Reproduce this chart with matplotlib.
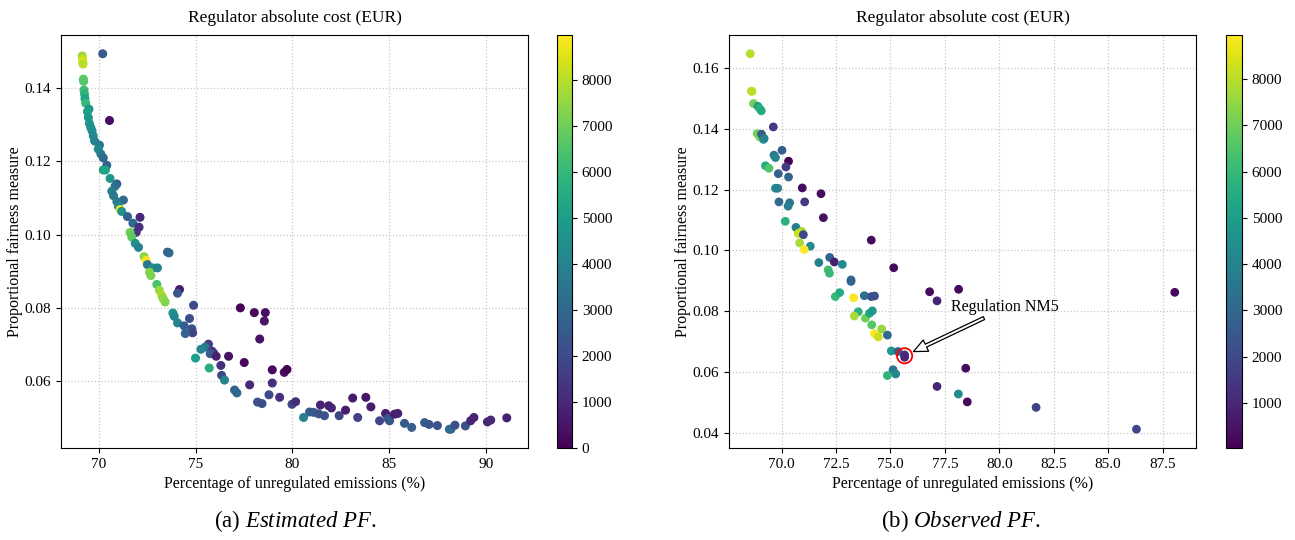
import matplotlib
matplotlib.use('Agg')
import matplotlib.pyplot as plt

plt.rcParams['font.family'] = ['Liberation Serif', 'DejaVu Serif']
plt.rcParams['mathtext.fontset'] = 'custom'
plt.rcParams['mathtext.rm'] = 'Liberation Serif'
plt.rcParams['mathtext.it'] = 'Liberation Serif:italic'

# (a) estimated Pareto front
est_x = [69.13, 69.15, 69.16, 69.17, 70.19, 69.19, 69.20, 69.22, 69.25, 69.27,
         69.31, 69.48, 69.40, 69.45, 70.54, 69.50, 69.57, 69.64, 69.70, 69.77,
         70.02, 69.96, 70.09, 70.22, 70.40, 70.22, 70.33, 70.57, 70.92, 70.83,
         70.66, 70.75, 71.26, 70.92, 71.00, 71.09, 71.17, 71.47, 72.12, 71.75,
         72.07, 71.92, 71.60, 71.69, 71.87, 72.04, 73.54, 73.62, 72.33, 72.44,
         72.50, 72.78, 73.02, 72.61, 72.68, 72.99, 73.12, 73.24, 73.32, 73.42,
         74.16, 74.06, 74.89, 77.31, 78.03, 78.60, 78.55, 78.31, 73.82, 73.89,
         74.06, 74.68, 74.40, 74.80, 74.84, 74.46, 75.66, 75.49, 75.27, 75.84,
         75.92, 75.75, 76.06, 76.70, 77.51, 74.99, 75.70, 76.30, 76.34, 76.49,
         78.96, 79.58, 79.72, 78.96, 77.79, 77.01, 77.13, 78.79, 79.34, 78.20,
         78.43, 79.98, 80.17, 80.89, 80.58, 81.10, 81.36, 81.45, 81.66, 81.88,
         82.02, 82.42, 82.75, 83.12, 83.38, 83.80, 84.06, 84.51, 84.82, 84.94,
         85.03, 85.28, 85.45, 85.80, 86.17, 86.84, 87.07, 87.50, 88.12, 88.20,
         88.41, 88.95, 89.22, 89.39, 90.09, 90.26, 91.09]
est_y = [0.1487, 0.1478, 0.1470, 0.1465, 0.1493, 0.1424, 0.1418, 0.1394, 0.1383, 0.1371,
         0.1358, 0.1342, 0.1335, 0.1319, 0.1311, 0.1303, 0.1292, 0.1283, 0.1269, 0.1255,
         0.1244, 0.1233, 0.1220, 0.1209, 0.1189, 0.1176, 0.1176, 0.1153, 0.1138, 0.1132,
         0.1118, 0.1106, 0.1094, 0.1090, 0.1077, 0.1068, 0.1063, 0.1049, 0.1047, 0.1031,
         0.1020, 0.1006, 0.1006, 0.0993, 0.0976, 0.0965, 0.0952, 0.0950, 0.0940, 0.0929,
         0.0918, 0.0909, 0.0909, 0.0897, 0.0888, 0.0864, 0.0848, 0.0834, 0.0825, 0.0816,
         0.0850, 0.0840, 0.0807, 0.0800, 0.0787, 0.0787, 0.0764, 0.0715, 0.0786, 0.0777,
         0.0759, 0.0771, 0.0751, 0.0743, 0.0732, 0.0730, 0.0701, 0.0693, 0.0687, 0.0682,
         0.0677, 0.0675, 0.0668, 0.0668, 0.0651, 0.0663, 0.0636, 0.0643, 0.0616, 0.0603,
         0.0631, 0.0624, 0.0632, 0.0595, 0.0590, 0.0576, 0.0568, 0.0563, 0.0556, 0.0543,
         0.0539, 0.0537, 0.0544, 0.0516, 0.0501, 0.0515, 0.0511, 0.0535, 0.0506, 0.0533,
         0.0527, 0.0506, 0.0521, 0.0554, 0.0501, 0.0556, 0.0530, 0.0492, 0.0512, 0.0498,
         0.0492, 0.0510, 0.0512, 0.0485, 0.0474, 0.0487, 0.0482, 0.0479, 0.0469, 0.0469,
         0.0480, 0.0478, 0.0492, 0.0501, 0.0489, 0.0494, 0.0500]
est_cost = [7600, 8200, 8600, 8000, 2600, 6800, 6600, 6200, 5800, 5300,
            6000, 4600, 5000, 4800, 300, 4700, 4500, 4400, 4200, 4000,
            3600, 4200, 3800, 3000, 2800, 5000, 5200, 4800, 2700, 3200,
            3800, 3600, 3000, 3800, 4200, 8800, 4500, 2800, 1000, 3100,
            1200, 1400, 7000, 6800, 4600, 3900, 2900, 3100, 7500, 8980,
            3500, 4300, 3900, 7400, 7200, 6400, 7600, 7800, 7500, 7300,
            600, 2400, 2000, 100, 200, 400, 500, 400, 4500, 4200,
            4000, 2200, 2600, 2300, 1800, 2800, 1600, 3600, 4100, 1400,
            1200, 2600, 800, 400, 200, 5000, 5600, 1300, 2000, 4000,
            200, 300, 0, 1200, 1000, 2800, 3000, 2000, 1200, 2200,
            2100, 1800, 1100, 2600, 3900, 2500, 2300, 900, 2200, 800,
            900, 1800, 700, 600, 1700, 500, 600, 1900, 800, 2300,
            2400, 700, 800, 2500, 2600, 2500, 2300, 2300, 3000, 3100,
            2200, 2300, 1000, 900, 900, 1000, 800]

# (b) observed Pareto front
obs_x = [68.56, 68.61, 68.64, 68.71, 68.91, 69.00, 69.07, 69.62, 68.88, 69.00,
         69.08, 69.17, 69.20, 70.02, 69.65, 69.72, 70.32, 70.20, 69.26, 69.42,
         69.85, 70.32, 69.72, 69.82, 70.95, 71.81, 69.88, 70.37, 70.30, 71.06,
         71.92, 70.17, 70.66, 70.92, 70.77, 71.00, 70.83, 71.32, 71.04, 74.12,
         71.71, 72.21, 72.42, 72.79, 72.14, 72.20, 73.19, 73.19, 75.15, 76.80,
         77.14, 73.31, 72.47, 72.67, 73.80, 74.12, 74.27, 73.52, 73.34, 73.85,
         74.04, 74.17, 74.14, 74.60, 74.27, 74.44, 74.86, 75.04, 75.35, 75.65,
         75.65, 75.12, 75.24, 74.86, 77.14, 78.13, 88.06, 78.46, 78.12, 78.53,
         81.69, 86.30]
obs_y = [0.1648, 0.1525, 0.1524, 0.1484, 0.1475, 0.1467, 0.1460, 0.1407, 0.1385, 0.1374,
         0.1383, 0.1366, 0.1369, 0.1330, 0.1314, 0.1306, 0.1294, 0.1275, 0.1279, 0.1271,
         0.1253, 0.1242, 0.1205, 0.1205, 0.1206, 0.1187, 0.1160, 0.1157, 0.1146, 0.1160,
         0.1108, 0.1096, 0.1076, 0.1063, 0.1056, 0.1052, 0.1025, 0.1014, 0.1003, 0.1034,
         0.0960, 0.0977, 0.0962, 0.0954, 0.0936, 0.0925, 0.0903, 0.0898, 0.0943, 0.0864,
         0.0834, 0.0844, 0.0848, 0.0861, 0.0851, 0.0848, 0.0850, 0.0798, 0.0784, 0.0777,
         0.0793, 0.0801, 0.0755, 0.0741, 0.0726, 0.0715, 0.0721, 0.0669, 0.0667, 0.0656,
         0.0648, 0.0607, 0.0593, 0.0588, 0.0552, 0.0872, 0.0862, 0.0612, 0.0527, 0.0501,
         0.0483, 0.0411]
obs_cost = [8000, 8200, 8000, 7000, 5000, 5800, 5500, 1500, 7000, 7200,
            2500, 4200, 4000, 2600, 3500, 4000, 30, 1500, 5500, 6500,
            2700, 2800, 4200, 4000, 300, 300, 3000, 3500, 3700, 1500,
            400, 5700, 3800, 7800, 8200, 2000, 7800, 4300, 8950, 300,
            3900, 2800, 800, 4300, 6300, 6000, 3300, 2800, 200, 300,
            900, 8900, 6000, 5500, 3300, 2200, 2200, 5700, 7800, 7000,
            5300, 4800, 6600, 7500, 8900, 8200, 3000, 4700, 2600, 1200,
            1000, 3500, 4200, 5800, 1000, 200, 200, 300, 4300, 300,
            1800, 1900]

nm5_x, nm5_y = 75.65, 0.0653
label_x, label_y = 80.25, 0.0814
arrow_tail = (79.70, 0.0791)

W, H = 1295, 540
fig = plt.figure(figsize=(W / 100, H / 100), dpi=100)

ax1 = fig.add_axes([61 / W, 92 / H, 467 / W, 413 / H])
cax1 = fig.add_axes([557 / W, 92 / H, 15 / W, 413 / H])
ax2 = fig.add_axes([729 / W, 92 / H, 467 / W, 413 / H])
cax2 = fig.add_axes([1226 / W, 92 / H, 16 / W, 413 / H])

sc1 = ax1.scatter(est_x, est_y, c=est_cost, cmap='viridis', s=30)
sc2 = ax2.scatter(obs_x, obs_y, c=obs_cost, cmap='viridis', s=28)
ax2.scatter([nm5_x], [nm5_y], s=120, facecolors='none', edgecolors='red', linewidths=1.3)
ax2.text(label_x, label_y, 'Regulation NM5', ha='center', va='center', fontsize=11.5)
ax2.annotate('', xy=(nm5_x, nm5_y), xytext=arrow_tail,
             arrowprops=dict(facecolor='white', edgecolor='black', shrink=0.1,
                             width=2.3, headwidth=9, headlength=10, linewidth=0.9))

for ax, cax, sc in [(ax1, cax1, sc1), (ax2, cax2, sc2)]:
    ax.set_title('Regulator absolute cost (EUR)', fontsize=12.5, pad=9)
    ax.set_xlabel('Percentage of unregulated emissions (%)', fontsize=11.5)
    ax.set_ylabel('Proportional fairness measure', fontsize=11.5, labelpad=1)
    ax.grid(True, linestyle=':', color='#c8c8c8', linewidth=0.9)
    ax.set_axisbelow(True)
    ax.tick_params(labelsize=11)
    cb = fig.colorbar(sc, cax=cax)
    cb.ax.tick_params(labelsize=11)
    cb.outline.set_linewidth(0.8)

fig.text(295 / W, 1 - 521 / H, r'(a) $\mathit{Estimated\ PF.}$', ha='center', va='center', fontsize=16.5)
fig.text(961 / W, 1 - 521 / H, r'(b) $\mathit{Observed\ PF.}$', ha='center', va='center', fontsize=16.5)

fig.savefig('out.png', dpi=100)
